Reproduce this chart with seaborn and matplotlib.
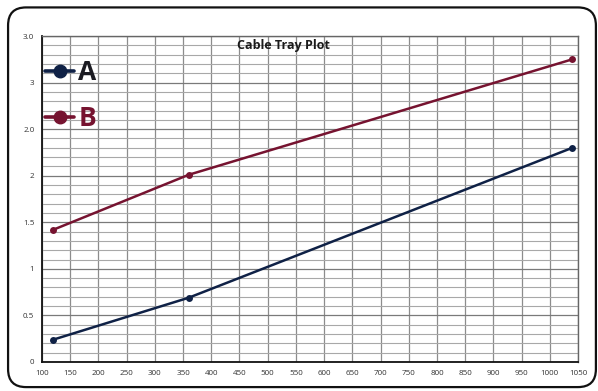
import matplotlib
matplotlib.use("Agg")
import matplotlib.pyplot as plt
from matplotlib.patches import FancyBboxPatch
from matplotlib.lines import Line2D
from matplotlib.ticker import MultipleLocator
import seaborn as sns
import pandas as pd

# Cable tray readings
x_values = [120, 360, 1040]
series_a = [0.24, 0.69, 2.30]
series_b = [1.42, 2.01, 3.25]
series_names = ["A", "B"]
series_colors = ["#0f2146", "#761330"]
label_colors = ["#1b1b22", "#761330"]

x_ticks = list(range(100, 1051, 50))
y_ticks = [0, 0.5, 1, 1.5, 2, 2.5, 3, 3.5]
y_tick_labels = ["0", "0.5", "1", "1.5", "2", "2.0", "3", "3.0"]

df = pd.DataFrame({
    "x": x_values * 2,
    "y": series_a + series_b,
    "series": [series_names[0]] * 3 + [series_names[1]] * 3,
})

sns.set_style("white")
plt.rcParams["font.family"] = ["Open Sans", "DejaVu Sans"]

fig = plt.figure(figsize=(5.98, 3.91), dpi=100)
ax = fig.add_axes([0.0702, 0.0742, 0.8964, 0.8337])

# rounded outer frame
frame = FancyBboxPatch((0.0135, 0.01), 0.983, 0.971,
                       boxstyle="round,pad=0,rounding_size=0.03",
                       transform=fig.transFigure, fill=False,
                       edgecolor="#111111", linewidth=1.6, mutation_aspect=598 / 391)
fig.patches.append(frame)

sns.lineplot(data=df, x="x", y="y", hue="series", palette=series_colors,
             marker="o", markersize=5, markeredgewidth=0, linewidth=1.8,
             legend=False, ax=ax, zorder=3)

ax.set_xlim(100, 1050)
ax.set_ylim(0, 3.5)
ax.set_xticks(x_ticks)
ax.set_xticklabels([str(t) for t in x_ticks])
ax.set_yticks(y_ticks)
ax.set_yticklabels(y_tick_labels)
ax.yaxis.set_minor_locator(MultipleLocator(0.1))
ax.tick_params(axis="both", which="major", labelsize=5.8, colors="#333333",
               length=2.5, width=0.8, pad=3)
ax.tick_params(axis="y", which="minor", length=0)
ax.set_xlabel("")
ax.set_ylabel("")

ax.grid(True, which="major", axis="x", color="#8c8c8c", linewidth=0.9)
ax.grid(True, which="major", axis="y", color="#7a7a7a", linewidth=0.9)
ax.grid(True, which="minor", axis="y", color="#a8a8a8", linewidth=0.8)
ax.set_axisbelow(True)

for side in ["left", "bottom"]:
    ax.spines[side].set_color("#111111")
    ax.spines[side].set_linewidth(1.3)
for side in ["top", "right"]:
    ax.spines[side].set_color("#666666")
    ax.spines[side].set_linewidth(1.0)

fig.text(0.474, 0.883, "Cable Tray Plot", ha="center", va="center",
         fontsize=9, fontweight="bold", color="#1a1a1a")

handles = [Line2D([0], [0], color=c, linewidth=2.6, marker="o", markersize=9)
           for c in series_colors]
leg = ax.legend(handles, series_names, loc="upper left",
                bbox_to_anchor=(0.006, 0.929), frameon=False,
                borderpad=0, borderaxespad=0,
                handlelength=1.1, handletextpad=0.15, labelspacing=0.72,
                prop={"size": 19, "weight": "bold"})
for text, c in zip(leg.get_texts(), label_colors):
    text.set_color(c)

fig.savefig("out.png", dpi=100)
